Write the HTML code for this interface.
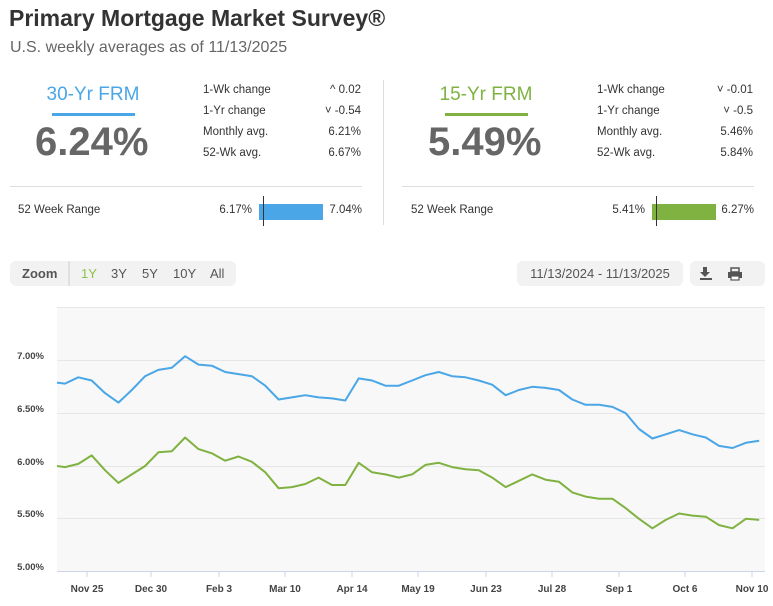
<!DOCTYPE html>
<html><head><meta charset="utf-8"><style>
body{margin:0;width:773px;height:606px;background:#fff;font-family:"Liberation Sans",sans-serif;position:relative;overflow:hidden;color:#333}
.a{position:absolute;white-space:nowrap}
.lab{font-size:11.5px;color:#333}
.val{font-size:11.5px;color:#333;text-align:right}
</style></head><body>
<div class="a" style="left:9px;top:5px;font-size:23px;font-weight:bold;color:#333">Primary Mortgage Market Survey®</div>
<div class="a" style="left:10px;top:39px;font-size:16px;color:#666">U.S. weekly averages as of 11/13/2025</div>

<div class="a" style="left:40px;top:84px;width:106px;text-align:center;font-size:19px;color:#4aa6e6">30-Yr FRM</div>
<div class="a" style="left:52px;top:113px;width:83px;height:3px;background:#4aa6e6"></div>
<div class="a" style="left:35px;top:120px;font-size:40px;font-weight:bold;color:#666">6.24%</div>
<div class="a lab" style="left:203px;top:84px">1-Wk change</div><div class="a val" style="left:300px;width:61px;top:84px">^ 0.02</div>
<div class="a lab" style="left:203px;top:105px">1-Yr change</div><div class="a val" style="left:300px;width:61px;top:105px">˅ -0.54</div>
<div class="a lab" style="left:203px;top:126px">Monthly avg.</div><div class="a val" style="left:300px;width:61px;top:126px">6.21%</div>
<div class="a lab" style="left:203px;top:147px">52-Wk avg.</div><div class="a val" style="left:300px;width:61px;top:147px">6.67%</div>
<div class="a" style="left:10px;top:186px;width:352px;height:1px;background:#ddd"></div>
<div class="a lab" style="left:18px;top:204px">52 Week Range</div>
<div class="a val" style="left:200px;width:52px;top:204px">6.17%</div>
<div class="a" style="left:259px;top:204px;width:64px;height:16px;background:#4aa6e6"></div>
<div class="a" style="left:263px;top:196px;width:1px;height:30px;background:#333"></div>
<div class="a val" style="left:320px;width:42px;top:204px">7.04%</div>

<div class="a" style="left:383px;top:80px;width:1px;height:145px;background:#ddd"></div>

<div class="a" style="left:433px;top:84px;width:106px;text-align:center;font-size:19px;color:#7fb241">15-Yr FRM</div>
<div class="a" style="left:445px;top:113px;width:83px;height:3px;background:#7fb241"></div>
<div class="a" style="left:428px;top:120px;font-size:40px;font-weight:bold;color:#666">5.49%</div>
<div class="a lab" style="left:597px;top:84px">1-Wk change</div><div class="a val" style="left:692px;width:61px;top:84px">˅ -0.01</div>
<div class="a lab" style="left:597px;top:105px">1-Yr change</div><div class="a val" style="left:692px;width:61px;top:105px">˅ -0.5</div>
<div class="a lab" style="left:597px;top:126px">Monthly avg.</div><div class="a val" style="left:692px;width:61px;top:126px">5.46%</div>
<div class="a lab" style="left:597px;top:147px">52-Wk avg.</div><div class="a val" style="left:692px;width:61px;top:147px">5.84%</div>
<div class="a" style="left:402px;top:186px;width:352px;height:1px;background:#ddd"></div>
<div class="a lab" style="left:411px;top:204px">52 Week Range</div>
<div class="a val" style="left:593px;width:52px;top:204px">5.41%</div>
<div class="a" style="left:652px;top:204px;width:64px;height:16px;background:#7fb241"></div>
<div class="a" style="left:656px;top:196px;width:1px;height:30px;background:#333"></div>
<div class="a val" style="left:712px;width:42px;top:204px">6.27%</div>

<div class="a" style="left:10px;top:261px;width:226px;height:25px;background:#f2f2f2;border-radius:6px"></div>
<div class="a" style="left:68px;top:261px;width:2px;height:25px;background:#e0e0e0"></div>
<div class="a" style="left:22px;top:266px;font-size:13px;font-weight:bold;color:#555">Zoom</div>
<div class="a" style="left:81px;top:266px;font-size:13px;color:#8bc34a">1Y</div>
<div class="a" style="left:111px;top:266px;font-size:13px;color:#555">3Y</div>
<div class="a" style="left:142px;top:266px;font-size:13px;color:#555">5Y</div>
<div class="a" style="left:173px;top:266px;font-size:13px;color:#555">10Y</div>
<div class="a" style="left:210px;top:266px;font-size:13px;color:#555">All</div>
<div class="a" style="left:517px;top:261px;width:166px;height:25px;background:#f2f2f2;border-radius:6px"></div>
<div class="a" style="left:517px;top:266px;width:166px;text-align:center;font-size:13px;color:#555">11/13/2024 - 11/13/2025</div>
<div class="a" style="left:690px;top:261px;width:75px;height:25px;background:#f2f2f2;border-radius:6px"></div>
<svg class="a" style="left:0;top:0" width="773" height="606" id="s"></svg>
<script>
var s=document.getElementById('s'),h='';
h+='<path d="M703 267h4v5h3l-5 5-5-5h3z M700 278h12v2h-12z" fill="#555"/>';
h+='<rect x="731" y="268" width="8" height="4" fill="none" stroke="#555" stroke-width="1.5"/><rect x="728" y="272" width="14" height="6" fill="#555"/><rect x="731" y="276" width="8" height="4" fill="#fff" stroke="#555" stroke-width="1.2"/>';
h+='<rect x="57" y="307" width="708" height="264" fill="#f8f8f8"/>';
h+='<line x1="57" y1="307.5" x2="765" y2="307.5" stroke="#e6e6e6"/>';
var g=[[7,360,'7.00%'],[6.5,413,'6.50%'],[6,466,'6.00%'],[5.5,518,'5.50%'],[5,571,'5.00%']];
g.forEach(function(a){h+='<line x1="57" x2="765" y1="'+(a[1]+.5)+'" y2="'+(a[1]+.5)+'" stroke="'+(a[0]==5?'#ccd6eb':'#e6e6e6')+'"/>';h+='<text x="44" y="'+(a[1]-1)+'" text-anchor="end" font-size="9.5" font-weight="bold" fill="#444">'+a[2]+'</text>';});
var t=[[87,'Nov 25'],[151,'Dec 30'],[219,'Feb 3'],[285,'Mar 10'],[352,'Apr 14'],[418,'May 19'],[486,'Jun 23'],[552,'Jul 28'],[619,'Sep 1'],[685,'Oct 6'],[752,'Nov 10']];
t.forEach(function(a){h+='<line x1="'+a[0]+'" x2="'+a[0]+'" y1="571" y2="577" stroke="#ccd6eb"/><text x="'+a[0]+'" y="592" text-anchor="middle" font-size="10" font-weight="bold" fill="#444">'+a[1]+'</text>';});
var A=[6.78,6.84,6.81,6.69,6.60,6.72,6.85,6.91,6.93,7.04,6.96,6.95,6.89,6.87,6.85,6.76,6.63,6.65,6.67,6.65,6.64,6.62,6.83,6.81,6.76,6.76,6.81,6.86,6.89,6.85,6.84,6.81,6.77,6.67,6.72,6.75,6.74,6.72,6.63,6.58,6.58,6.56,6.50,6.35,6.26,6.30,6.34,6.30,6.27,6.19,6.17,6.22,6.24];
var B=[5.99,6.02,6.10,5.96,5.84,5.92,6.00,6.13,6.14,6.27,6.16,6.12,6.05,6.09,6.04,5.94,5.79,5.80,5.83,5.89,5.82,5.82,6.03,5.94,5.92,5.89,5.92,6.01,6.03,5.99,5.97,5.96,5.89,5.80,5.86,5.92,5.87,5.85,5.75,5.71,5.69,5.69,5.60,5.50,5.41,5.49,5.55,5.53,5.52,5.44,5.41,5.50,5.49];
function P(d,s0,c){var p='M57 '+(466-(s0-6)*105.6).toFixed(1);d.forEach(function(v,i){p+=' L'+(65+i*13.35).toFixed(1)+' '+(466-(v-6)*105.6).toFixed(1);});return '<path d="'+p+'" fill="none" stroke="'+c+'" stroke-width="2" stroke-linejoin="round"/>';}
h+=P(A,6.79,'#4aa6e6')+P(B,6.00,'#7fb241');
s.innerHTML=h;
</script>
</body></html>
